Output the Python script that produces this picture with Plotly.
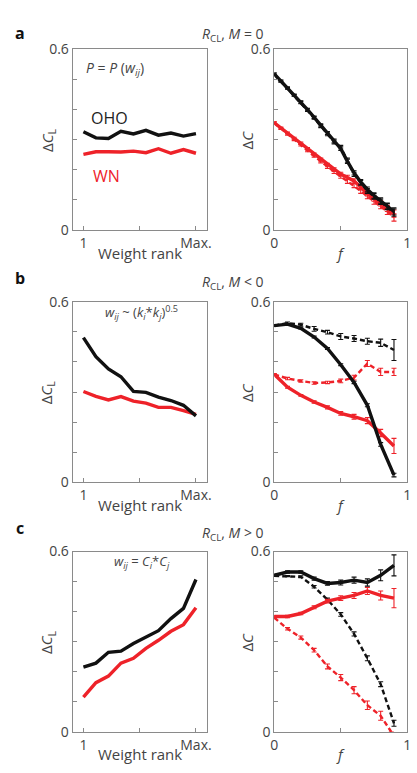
import plotly.graph_objects as go

# ---------------- data ----------------
rank = [1, 2, 3, 4, 5, 6, 7, 8, 9, 10]

# panel a (P = P(w_ij))
a_left_oho = [0.326, 0.306, 0.304, 0.328, 0.319, 0.331, 0.315, 0.322, 0.312, 0.320]
a_left_wn = [0.251, 0.260, 0.260, 0.259, 0.262, 0.257, 0.270, 0.255, 0.267, 0.255]

f_a = [0, 0.05, 0.1, 0.15, 0.2, 0.25, 0.3, 0.35, 0.4, 0.45, 0.5, 0.55, 0.6, 0.65, 0.7, 0.75, 0.8, 0.85, 0.9]
a_black_solid = [0.518, 0.495, 0.472, 0.448, 0.425, 0.400, 0.374, 0.348, 0.322, 0.296, 0.270, 0.228, 0.190, 0.160, 0.135, 0.115, 0.098, 0.080, 0.062]
a_black_dash = [0.518, 0.494, 0.470, 0.447, 0.423, 0.398, 0.372, 0.345, 0.318, 0.292, 0.275, 0.232, 0.185, 0.157, 0.130, 0.112, 0.094, 0.078, 0.058]
a_red_solid = [0.356, 0.339, 0.322, 0.305, 0.288, 0.270, 0.252, 0.234, 0.217, 0.201, 0.186, 0.175, 0.163, 0.142, 0.121, 0.105, 0.089, 0.072, 0.055]
a_red_dash = [0.356, 0.337, 0.318, 0.300, 0.283, 0.264, 0.246, 0.228, 0.210, 0.194, 0.178, 0.162, 0.148, 0.130, 0.112, 0.095, 0.080, 0.062, 0.042]
a_err = [0.003, 0.003, 0.003, 0.003, 0.004, 0.004, 0.004, 0.005, 0.005, 0.006, 0.006, 0.007, 0.007, 0.008, 0.008, 0.009, 0.009, 0.010, 0.012]

# panel b
f_b = [0, 0.1, 0.2, 0.3, 0.4, 0.5, 0.6, 0.7, 0.8, 0.9]
b_left_black = [0.481, 0.418, 0.377, 0.351, 0.302, 0.299, 0.283, 0.272, 0.256, 0.221]
b_left_red = [0.302, 0.286, 0.274, 0.285, 0.270, 0.263, 0.249, 0.249, 0.238, 0.226]
b_black_dash = [0.521, 0.529, 0.524, 0.510, 0.499, 0.485, 0.478, 0.469, 0.464, 0.440]
b_black_dash_err = [0.003, 0.004, 0.005, 0.008, 0.006, 0.010, 0.010, 0.010, 0.012, 0.035]
b_black_solid = [0.521, 0.526, 0.512, 0.483, 0.445, 0.391, 0.332, 0.256, 0.126, 0.024]
b_black_solid_err = [0.002, 0.002, 0.002, 0.003, 0.003, 0.003, 0.004, 0.005, 0.006, 0.006]
b_red_dash = [0.359, 0.345, 0.337, 0.330, 0.332, 0.337, 0.348, 0.395, 0.367, 0.367]
b_red_dash_err = [0.003, 0.004, 0.004, 0.004, 0.004, 0.006, 0.008, 0.010, 0.012, 0.012]
b_red_solid = [0.359, 0.316, 0.289, 0.267, 0.249, 0.229, 0.218, 0.205, 0.164, 0.121]
b_red_solid_err = [0.002, 0.003, 0.003, 0.004, 0.005, 0.006, 0.008, 0.010, 0.012, 0.025]

# panel c
c_left_black = [0.216, 0.229, 0.265, 0.269, 0.294, 0.316, 0.337, 0.377, 0.411, 0.507]
c_left_red = [0.116, 0.164, 0.186, 0.229, 0.245, 0.278, 0.305, 0.335, 0.357, 0.413]
c_black_solid = [0.521, 0.532, 0.532, 0.510, 0.494, 0.497, 0.505, 0.497, 0.521, 0.554]
c_black_solid_err = [0.003, 0.004, 0.004, 0.005, 0.006, 0.008, 0.010, 0.012, 0.018, 0.035]
c_black_dash = [0.519, 0.518, 0.516, 0.483, 0.440, 0.391, 0.326, 0.245, 0.159, 0.029]
c_black_dash_err = [0.002, 0.002, 0.003, 0.004, 0.005, 0.006, 0.007, 0.008, 0.008, 0.010]
c_red_solid = [0.384, 0.384, 0.394, 0.415, 0.435, 0.445, 0.454, 0.469, 0.454, 0.445]
c_red_solid_err = [0.003, 0.004, 0.004, 0.005, 0.006, 0.008, 0.010, 0.012, 0.015, 0.032]
f_c_red_dash = [0, 0.1, 0.2, 0.3, 0.4, 0.5, 0.6, 0.7, 0.8, 0.88]
c_red_dash = [0.380, 0.343, 0.314, 0.272, 0.218, 0.181, 0.139, 0.089, 0.054, 0.0]
c_red_dash_err = [0.003, 0.004, 0.005, 0.006, 0.008, 0.010, 0.012, 0.014, 0.015, 0.0]

left_ticks = [1, 10]
left_ticktext = ["1", "Max."]
left_minor = [5.5]
y_ticks = [0, 0.6]
y_ticktext = ["0", "0.6"]
y_minor = [0.1, 0.2, 0.3, 0.4, 0.5]
right_ticks = [0, 1]
right_ticktext = ["0", "1"]
right_minor = [0.5]

BLACK = "#111111"
RED = "#ee2229"
FONT = "Open Sans"
TXT = "#444444"

W, H = 417, 773
fig = go.Figure()


def line(x, y, color, dash, ax, width=3.4, err=None):
    kw = {}
    if err is not None:
        kw["error_y"] = dict(type="data", array=err, visible=True, color=color,
                             thickness=1.1, width=2.5)
    fig.add_trace(go.Scatter(
        x=x, y=y, mode="lines",
        line=dict(color=color, width=width, dash=dash),
        xaxis="x" + ax, yaxis="y" + ax, showlegend=False, **kw))


DASH = "5px,3px"
# panel a
line(rank, a_left_oho, BLACK, "solid", "1")
line(rank, a_left_wn, RED, "solid", "1")
line(f_a, a_red_dash, RED, DASH, "2", width=2.4, err=a_err)
line(f_a, a_red_solid, RED, "solid", "2", err=a_err)
line(f_a, a_black_dash, BLACK, DASH, "2", width=2.4, err=a_err)
line(f_a, a_black_solid, BLACK, "solid", "2", err=a_err)
# panel b
line(rank, b_left_red, RED, "solid", "3")
line(rank, b_left_black, BLACK, "solid", "3")
line(f_b, b_black_dash, BLACK, DASH, "4", width=2.4, err=b_black_dash_err)
line(f_b, b_red_dash, RED, DASH, "4", width=2.4, err=b_red_dash_err)
line(f_b, b_red_solid, RED, "solid", "4", err=b_red_solid_err)
line(f_b, b_black_solid, BLACK, "solid", "4", err=b_black_solid_err)
# panel c
line(rank, c_left_black, BLACK, "solid", "5")
line(rank, c_left_red, RED, "solid", "5")
line(f_b, c_black_dash, BLACK, DASH, "6", width=2.4, err=c_black_dash_err)
line(f_c_red_dash, c_red_dash, RED, DASH, "6", width=2.4, err=c_red_dash_err)
line(f_b, c_red_solid, RED, "solid", "6", err=c_red_solid_err)
line(f_b, c_black_solid, BLACK, "solid", "6", err=c_black_solid_err)

xl = [62 / W, 199 / W]
xr = [268 / W, 404 / W]
rows = [(32, 217.5), (291, 476), (547, 732)]

axis_common = dict(showline=True, mirror=True, linecolor="#8a8a8a", linewidth=1,
                   ticks="inside", ticklen=4, tickcolor="#8a8a8a", showgrid=False,
                   zeroline=False, tickfont=dict(family=FONT, size=14, color=TXT))


def minor(vals):
    return dict(tickmode="array", tickvals=vals, ticks="inside", ticklen=4,
                tickcolor="#8a8a8a", showgrid=False)


layout = {}
for r, (top, bot) in enumerate(rows):
    ydom = [1 - bot / H, 1 - top / H]
    for c in range(2):
        i = r * 2 + c + 1
        s = "" if i == 1 else str(i)
        if c == 0:
            layout["xaxis" + s] = dict(domain=xl, range=[0.14, 10.86], tickvals=left_ticks,
                                       ticktext=left_ticktext, minor=minor(left_minor),
                                       anchor="y" + str(i), **axis_common)
        else:
            layout["xaxis" + s] = dict(domain=xr, range=[0, 1], tickvals=right_ticks,
                                       ticktext=right_ticktext, minor=minor(right_minor),
                                       anchor="y" + str(i), **axis_common)
        layout["yaxis" + s] = dict(domain=ydom, range=[0, 0.6], tickvals=y_ticks,
                                   ticktext=y_ticktext, minor=minor(y_minor),
                                   anchor="x" + str(i), **axis_common)
fig.update_layout(**layout)

ann = []


def text(x, y, t, size=13, color=TXT, xanchor="center", angle=0):
    ann.append(dict(x=x / W, y=1 - y / H, xref="paper", yref="paper", text=t,
                    showarrow=False, xanchor=xanchor, yanchor="middle", textangle=angle,
                    font=dict(family=FONT, size=size, color=color)))


headers = ["<i>R</i><sub>CL</sub>, <i>M</i> = 0", "<i>R</i><sub>CL</sub>, <i>M</i> &lt; 0",
           "<i>R</i><sub>CL</sub>, <i>M</i> &gt; 0"]
letters = ["a", "b", "c"]
letter_y = [15, 267, 523]
header_y = [17, 271, 529]
for r, (top, bot) in enumerate(rows):
    mid = (top + bot) / 2
    text(8, letter_y[r], "<b>" + letters[r] + "</b>", size=16, color="#111111")
    text(226, header_y[r], headers[r], size=14)
    text(36, mid, "Δ<i>C</i><sub>L</sub>", size=15, angle=-90)
    text(240, mid, "Δ<i>C</i>", size=15, angle=-90)
    text(131, bot + 23, "Weight rank", size=15)
    text(336, bot + 23, "<i>f</i>", size=15)

text(74, 52, "<i>P</i> = <i>P</i> (<i>w</i><sub><i>ij</i></sub>)", size=14, xanchor="left")
text(79, 103, "OHO", size=16, color="#222222", xanchor="left")
text(81, 162, "WN", size=16, color=RED, xanchor="left")
text(93, 302, "<i>w</i><sub><i>ij</i></sub> ~ (<i>k</i><sub><i>i</i></sub>*<i>k</i><sub><i>j</i></sub>)<sup>0.5</sup>",
     size=13, xanchor="left")
text(102, 558, "<i>w</i><sub><i>ij</i></sub> = <i>C</i><sub><i>i</i></sub>*<i>C</i><sub><i>j</i></sub>",
     size=13, xanchor="left")

fig.update_layout(annotations=ann, width=W, height=H,
                  margin=dict(l=0, r=0, t=0, b=0),
                  paper_bgcolor="white", plot_bgcolor="white",
                  font=dict(family=FONT, color=TXT))
fig.write_html("out.html")
